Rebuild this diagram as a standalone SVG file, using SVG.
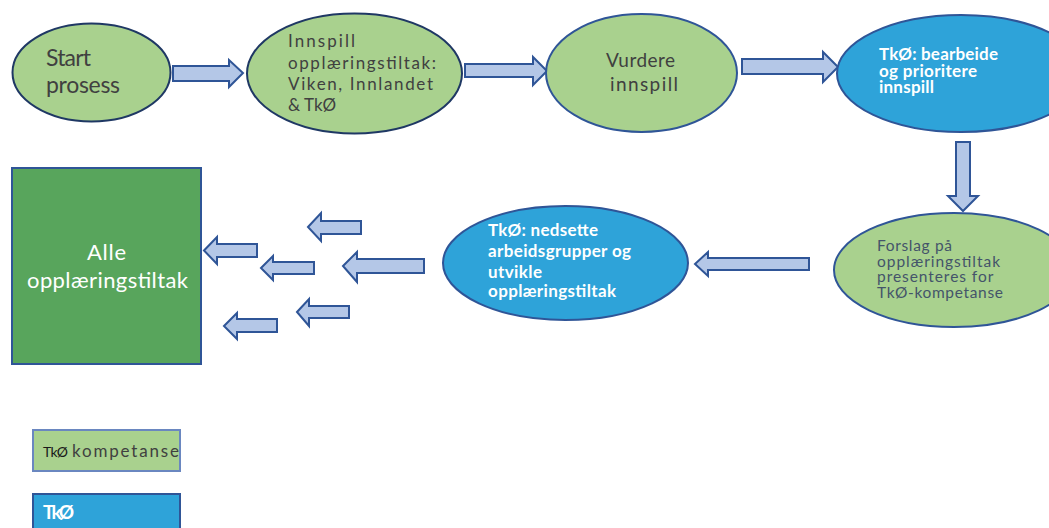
<svg xmlns="http://www.w3.org/2000/svg" width="1049" height="528" viewBox="0 0 1049 528">
<style>
  .green { fill: #a9d18e; stroke: #2f5597; stroke-width: 2; }
  .greenDark { fill: #a9d18e; stroke: #1f3864; stroke-width: 2; }
  .blue { fill: #2ea3d9; stroke: #2f5597; stroke-width: 2; }
  .arrow { fill: #b4c7e7; stroke: #2f5597; stroke-width: 2; stroke-linejoin: miter; }
  .t { font-family: Lato, "Liberation Sans", "Noto Sans", sans-serif; }
  .gray { fill: #404040; }
  .slate { fill: #44546a; }
  .wb { fill: #ffffff; font-weight: bold; }
</style>
<rect width="1049" height="528" fill="#ffffff"/>

<g id="connectors">
  <polygon class="arrow" points="173,66 229,66 229,60 243,73 229,87 229,81 173,81"/>
  <polygon class="arrow" points="465,64 533,64 533,57 547,71 533,85 533,77 465,77"/>
  <polygon class="arrow" points="742,59 823,59 823,52 838,67 823,82 823,74 742,74"/>
  <polygon class="arrow" points="956,142 970,142 970,196 978,196 963,211 948,196 956,196"/>
  <polygon class="arrow" points="695,264 708,252 708,258 809,258 809,270 708,270 708,276"/>
  <polygon class="arrow" points="308,227 321,213 321,221 361,221 361,234 321,234 321,241"/>
  <polygon class="arrow" points="204,250.5 217,237 217,244 257,244 257,257 217,257 217,264"/>
  <polygon class="arrow" points="261,268 273,256 273,262 314,262 314,274 273,274 273,280"/>
  <polygon class="arrow" points="343,266 357,252 357,259 424,259 424,273 357,273 357,282"/>
  <polygon class="arrow" points="297,312 309,299 309,306 349,306 349,318 309,318 309,326"/>
  <polygon class="arrow" points="224,326 237,313 237,319 277,319 277,332 237,332 237,339"/>
</g>

<g id="start">
  <ellipse class="greenDark" cx="91.5" cy="72.5" rx="79" ry="49"/>
  <text class="t gray" font-size="23"><tspan x="46" y="66" textLength="45">Start</tspan><tspan x="46" y="93" textLength="74">prosess</tspan></text>
</g>

<g id="innspill">
  <ellipse class="greenDark" cx="354.5" cy="73.5" rx="107.5" ry="60"/>
  <text class="t gray" font-size="17">
    <tspan x="288" y="47" textLength="67">Innspill</tspan>
    <tspan x="288" y="69" textLength="148">opplæringstiltak:</tspan>
    <tspan x="288" y="90" textLength="145">Viken, Innlandet</tspan>
    <tspan x="288" y="111" textLength="48">&amp; TkØ</tspan>
  </text>
</g>

<g id="vurdere">
  <ellipse class="green" cx="641.5" cy="73" rx="95.5" ry="59"/>
  <text class="t gray" font-size="19">
    <tspan x="606" y="67" textLength="69">Vurdere</tspan>
    <tspan x="610" y="91" textLength="68">innspill</tspan>
  </text>
</g>

<g id="bearbeide">
  <ellipse class="blue" cx="961" cy="73.5" rx="124" ry="58.5"/>
  <text class="t wb" font-size="17">
    <tspan x="879" y="60" textLength="119">TkØ: bearbeide</tspan>
    <tspan x="879" y="76.5" textLength="98">og prioritere</tspan>
    <tspan x="879" y="93" textLength="55">innspill</tspan>
  </text>
</g>

<g id="forslag">
  <ellipse class="green" cx="954" cy="270" rx="120" ry="57"/>
  <text class="t slate" font-size="15.5">
    <tspan x="877" y="251" textLength="75">Forslag på</tspan>
    <tspan x="877" y="266.5" textLength="123">opplæringstiltak</tspan>
    <tspan x="877" y="282" textLength="116">presenteres for</tspan>
    <tspan x="877" y="297.5" textLength="126">TkØ-kompetanse</tspan>
  </text>
</g>

<g id="nedsette">
  <ellipse class="blue" cx="565.5" cy="263" rx="122.5" ry="57"/>
  <text class="t wb" font-size="17">
    <tspan x="488" y="236" textLength="110">TkØ: nedsette</tspan>
    <tspan x="488" y="257" textLength="143">arbeidsgrupper og</tspan>
    <tspan x="488" y="278" textLength="54">utvikle</tspan>
    <tspan x="488" y="297" textLength="128">opplæringstiltak</tspan>
  </text>
</g>

<g id="alle">
  <rect x="12" y="168" width="189" height="196" fill="#58a55c" stroke="#2f5597" stroke-width="2"/>
  <text class="t" fill="#ffffff" font-size="22">
    <tspan x="87" y="260" textLength="39">Alle</tspan>
    <tspan x="27" y="288" textLength="161">opplæringstiltak</tspan>
  </text>
</g>

<g id="legend-kompetanse">
  <rect x="33" y="430" width="147" height="41" fill="#a9d18e" stroke="#6a87c0" stroke-width="2"/>
  <text class="t" font-size="14" fill="#1a1a1a" x="43" y="457" textLength="25">TkØ</text>
  <text class="t gray" font-size="17" x="72" y="457" textLength="107">kompetanse</text>
</g>

<g id="legend-tko">
  <rect x="33" y="494" width="147" height="40" fill="#2ea3d9" stroke="#2f5597" stroke-width="2"/>
  <text class="t wb" font-size="19" x="43" y="519" textLength="31">TkØ</text>
</g>
</svg>
